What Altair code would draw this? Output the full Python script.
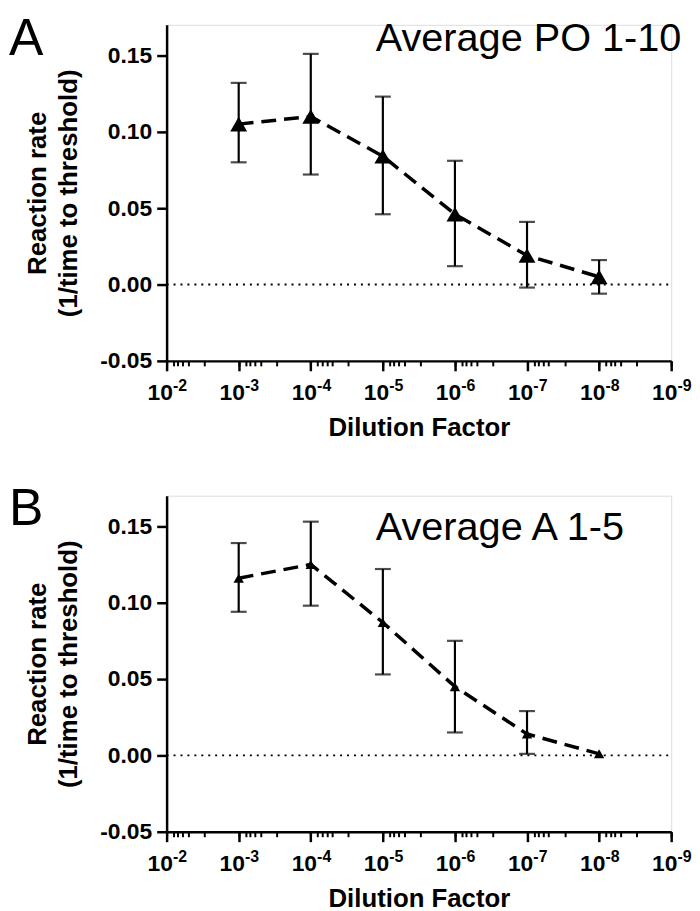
import altair as alt
import pandas as pd

# ---------------- data ----------------
dilution = [1e-3, 1e-4, 1e-5, 1e-6, 1e-7, 1e-8]

a_mean = [0.105, 0.110, 0.084, 0.046, 0.019, 0.005]
a_lo = [0.080, 0.072, 0.046, 0.012, -0.002, -0.006]
a_hi = [0.132, 0.151, 0.123, 0.081, 0.041, 0.016]

b_mean = [0.116, 0.125, 0.087, 0.045, 0.014, 0.001]
b_lo = [0.094, 0.098, 0.053, 0.015, 0.001, None]
b_hi = [0.139, 0.153, 0.122, 0.075, 0.029, None]

panel_letters = ["A", "B"]
panel_titles = ["Average PO 1-10", "Average A 1-5"]

y_ticks = [-0.05, 0.0, 0.05, 0.10, 0.15]
y_domain = [-0.05, 0.17]
x_major = [1e-2, 1e-3, 1e-4, 1e-5, 1e-6, 1e-7, 1e-8, 1e-9]
minor_multipliers = [3, 5, 6, 7, 8]
x_title = "Dilution Factor"
y_title = ["Reaction rate", "(1/time to threshold)"]
zero_line = [0.0]

# ---------------- styling ----------------
FONT = "Liberation Sans"
W, H = 509, 339
x_minor = [m * d for d in x_major[1:] for m in minor_multipliers]
IS_MAJOR = "abs(log(datum.value)/LN10 - round(log(datum.value)/LN10)) < 0.01"


def x_scale():
    return alt.Scale(type="log", domain=[1e-9, 1e-2], reverse=True, nice=False)


def y_scale():
    return alt.Scale(domain=y_domain, nice=False, zero=False)


def y_axis():
    return alt.Axis(
        values=y_ticks,
        labelExpr="replace(format(datum.value, '.2f'), '\u2212', '-')",
        labelFont=FONT, labelFontSize=23, labelFontWeight="bold", labelColor="black",
        labelPadding=5,
        tickSize=10, tickWidth=2.5, tickColor="black",
        domainColor="black", domainWidth=2.5,
        grid=False,
        title=y_title, titleFont=FONT, titleFontSize=26, titleFontWeight="bold",
        titleColor="black", titleLineHeight=32, titlePadding=18,
    )


main_x_axis = alt.Axis(
    orient="bottom",
    values=x_major,
    labelExpr=f"({IS_MAJOR}) ? '10' : ''",
    labelFont=FONT, labelFontSize=23, labelFontWeight="bold", labelColor="black",
    labelOffset=-7, labelPadding=11, labelFlush=False, labelOverlap=False,
    tickSize=10, tickWidth=2.5, tickColor="black",
    domainColor="black", domainWidth=2.5,
    grid=False,
    title=x_title, titleFont=FONT, titleFontSize=26, titleFontWeight="bold",
    titleColor="black", titlePadding=10,
)

sup_x_axis = alt.Axis(
    orient="bottom",
    values=x_major + x_minor,
    labelExpr=f"({IS_MAJOR}) ? '-' + round(-log(datum.value)/LN10) : ''",
    labelFont=FONT, labelFontSize=16, labelFontWeight="bold", labelColor="black",
    labelOffset=13, labelPadding=12, labelFlush=False, labelOverlap=False,
    tickSize=5, tickWidth=2, tickColor="black",
    domain=False, grid=False, title=None,
)


def panel(mean, lo, hi, letter, title, marker_size, letter_y, title_y):
    df = pd.DataFrame({"dilution": dilution, "mean": mean, "lo": lo, "hi": hi})
    base = alt.Chart(df)

    zero = alt.Chart(pd.DataFrame({"zero": zero_line})).mark_rule(
        color="black", strokeWidth=2, strokeDash=[2, 5]
    ).encode(
        y=alt.Y("zero:Q", scale=y_scale(), axis=y_axis()),
        x=alt.value(0), x2=alt.value(W),
    )

    bars = base.mark_rule(color="black", strokeWidth=2.2).encode(
        x=alt.X("dilution:Q", scale=x_scale(), axis=None),
        y=alt.Y("lo:Q", scale=y_scale(), axis=y_axis()),
        y2="hi:Q",
    )
    cap_lo = base.mark_tick(orient="horizontal", size=16, thickness=2.2, color="black").encode(
        x=alt.X("dilution:Q", scale=x_scale(), axis=None),
        y=alt.Y("lo:Q", scale=y_scale(), axis=y_axis()),
    )
    cap_hi = base.mark_tick(orient="horizontal", size=16, thickness=2.2, color="black").encode(
        x=alt.X("dilution:Q", scale=x_scale(), axis=None),
        y=alt.Y("hi:Q", scale=y_scale(), axis=y_axis()),
    )
    line = base.mark_line(color="black", strokeWidth=3.5, strokeDash=[15, 8]).encode(
        x=alt.X("dilution:Q", scale=x_scale(), axis=main_x_axis),
        y=alt.Y("mean:Q", scale=y_scale(), axis=y_axis()),
    )
    points = base.mark_point(
        shape="triangle-up", filled=True, size=marker_size, color="black", opacity=1
    ).encode(
        x=alt.X("dilution:Q", scale=x_scale(), axis=sup_x_axis),
        y=alt.Y("mean:Q", scale=y_scale(), axis=y_axis()),
    )
    letter_txt = alt.Chart(pd.DataFrame({"t": [letter]})).mark_text(
        align="left", baseline="alphabetic", font=FONT, fontSize=52, color="black"
    ).encode(text="t:N", x=alt.value(-159), y=alt.value(letter_y))
    title_txt = alt.Chart(pd.DataFrame({"t": [title]})).mark_text(
        align="left", baseline="alphabetic", font=FONT, fontSize=40, color="black"
    ).encode(text="t:N", x=alt.value(211), y=alt.value(title_y))

    return alt.layer(
        zero, bars, cap_lo, cap_hi, line, points, letter_txt, title_txt
    ).resolve_axis(x="independent").properties(width=W, height=H)


pA = panel(a_mean, a_lo, a_hi, panel_letters[0], panel_titles[0], 290, 30, 26)
pB = panel(b_mean, b_lo, b_hi, panel_letters[1], panel_titles[1], 110, 30, 45)

chart = alt.vconcat(pA, pB, spacing=136, bounds="flush").properties(
    padding={"left": 0, "top": 0, "right": 0, "bottom": 0}
).configure_view(stroke=None).configure(background="white")

chart.save("out.html", embed_options={"renderer": "svg", "actions": False})
